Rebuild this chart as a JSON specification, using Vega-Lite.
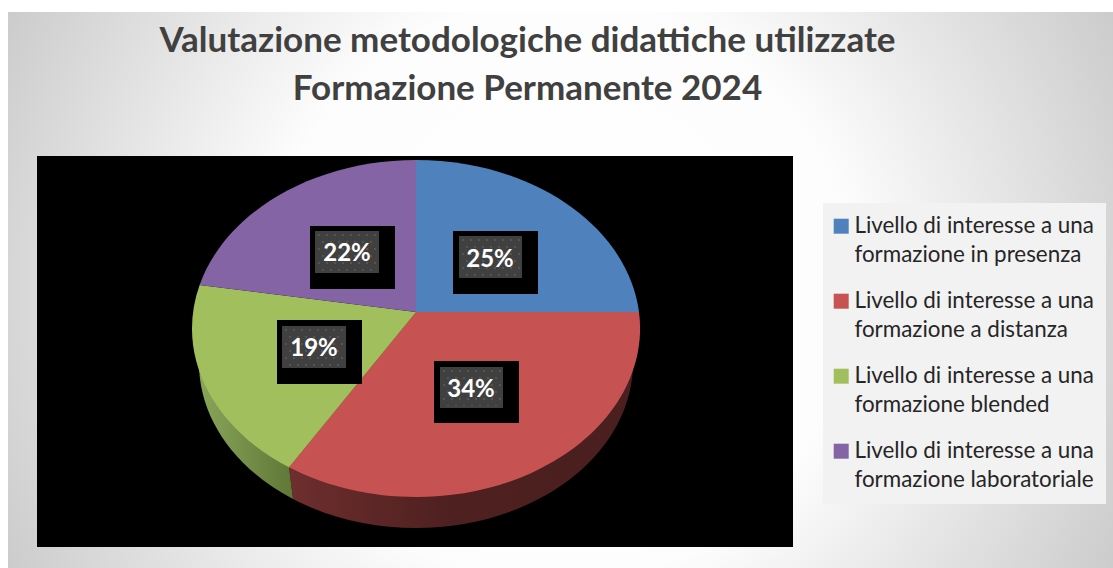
{
"$schema":"https://vega.github.io/schema/vega-lite/v6.json",
"width":1105,"height":556,"autosize":{"type":"none"},
"padding":{"left":8,"top":12,"right":0,"bottom":0},
"background":"#ffffff",
"view":{"stroke":null,"fill":{"gradient":"radial","x1":0.5,"y1":0.5,"r1":0,"x2":0.5,"y2":0.5,"r2":0.66,"stops":[{"offset":0,"color":"#ffffff"},{"offset":0.4,"color":"#fdfdfd"},{"offset":1,"color":"#bbbbbb"}]}},
"config":{"font":"Lato"},
"resolve":{"scale":{"shape":"independent"}},
"title":{"text":["Valutazione metodologiche didattiche utilizzate","Formazione Permanente 2024"],"font":"Lato","fontSize":35,"fontWeight":"bold","color":"#404040","lineHeight":48,"anchor":"middle","frame":"group","dx":-33,"dy":99},
"data":{"values":[
{"category":"Livello di interesse a una formazione in presenza","value":0.25},
{"category":"Livello di interesse a una formazione a distanza","value":0.34},
{"category":"Livello di interesse a una formazione blended","value":0.19},
{"category":"Livello di interesse a una formazione laboratoriale","value":0.22}
]},
"layer":[
{"mark":{"type":"rect","color":"#000000"},
 "transform":[{"filter":"datum.value==0.25"}],
 "encoding":{
 "x":{"datum":29,"type":"quantitative","scale":{"domain":[0,1105],"nice":false,"zero":false},"axis":null},
 "x2":{"datum":785},
 "y":{"datum":144,"type":"quantitative","scale":{"domain":[0,556],"reverse":true,"nice":false,"zero":false},"axis":null},
 "y2":{"datum":535}}},
{"mark":{"type":"point","filled":true,"opacity":1,"strokeWidth":0,"size":4,"shape":"M224,16.5L217,51A217,165 0 0 1 -123,187L-127,155.3L0,0Z","fill":{"gradient":"linear","x1":0,"y1":0,"x2":1,"y2":0,"stops":[{"offset":0,"color":"#6e2e2e"},{"offset":0.45,"color":"#4f2020"},{"offset":1,"color":"#4a1f1f"}]}},
 "transform":[{"filter":"datum.value==0.34"}],
 "encoding":{"x":{"datum":408,"type":"quantitative"},"y":{"datum":300,"type":"quantitative"}}},
{"mark":{"type":"point","filled":true,"opacity":1,"strokeWidth":0,"size":4,"shape":"M-127,155.3L-123,187A217,165 0 0 1 -217,51L-224,16.5L0,0Z","fill":{"gradient":"linear","x1":0,"y1":0,"x2":1,"y2":0,"stops":[{"offset":0,"color":"#8ca95c"},{"offset":0.47,"color":"#5e7536"},{"offset":1,"color":"#5e7536"}]}},
 "transform":[{"filter":"datum.value==0.19"}],
 "encoding":{"x":{"datum":408,"type":"quantitative"},"y":{"datum":300,"type":"quantitative"}}},
{"mark":{"type":"point","filled":true,"opacity":1,"strokeWidth":0,"size":4},
 "encoding":{"x":{"datum":408,"type":"quantitative"},"y":{"datum":300,"type":"quantitative"},
 "color":{"field":"category","type":"nominal","sort":null,
  "scale":{"domain":["Livello di interesse a una formazione in presenza","Livello di interesse a una formazione a distanza","Livello di interesse a una formazione blended","Livello di interesse a una formazione laboratoriale"],"range":["#4f81bd","#c65351","#a2bf5d","#8464a5"]},
  "legend":{"title":null,"orient":"none","legendX":815,"legendY":191,"fillColor":"#f2f2f2","padding":12,"symbolType":"square","symbolSize":225,"symbolStrokeWidth":0,"symbolOpacity":1,"symbolOffset":-5,"labelFont":"Lato","labelFontSize":22.4,"labelColor":"#262626","labelLimit":300,"labelOffset":2,"rowPadding":23,
   "labelExpr":"[slice(datum.label,0,26),slice(datum.label,27)]",
   "encoding":{"labels":{"lineHeight":{"value":29}}}}},
 "shape":{"field":"category","type":"nominal","sort":null,"legend":null,
  "scale":{"domain":["Livello di interesse a una formazione in presenza","Livello di interesse a una formazione a distanza","Livello di interesse a una formazione blended","Livello di interesse a una formazione laboratoriale"],
  "range":["M0,0L0,-152A224,168.5 0 0 1 223,0Z","M0,0L223,0A224,168.5 0 0 1 -127,155.3Z","M0,0L-127,155.3A224,168.5 0 0 1 -216.4,-27Z","M0,0L-216.4,-27A224,168.5 0 0 1 0,-152Z"]}}}},
{"mark":{"type":"point","filled":true,"opacity":1,"strokeWidth":0,"size":4,"color":"#000000"},
 "encoding":{"x":{"datum":408,"type":"quantitative"},"y":{"datum":300,"type":"quantitative"},
 "shape":{"field":"value","type":"nominal","legend":null,"scale":{"domain":[0.25,0.34,0.19,0.22],
  "range":["M37,-81H122V-18H37Z","M18,49H103V111H18Z","M-139,8H-54V72H-139Z","M-106,-86H-21V-23H-106Z"]}}}},
{"mark":{"type":"point","filled":true,"opacity":1,"strokeWidth":0,"size":4,"color":"#404040"},
 "encoding":{"x":{"datum":408,"type":"quantitative"},"y":{"datum":300,"type":"quantitative"},
 "shape":{"field":"value","type":"nominal","legend":null,"scale":{"domain":[0.25,0.34,0.19,0.22],
  "range":["M43,-76H106V-34H43Z","M24,55H87V96H24Z","M-134,14H-70V56H-134Z","M-101,-81H-37V-39H-101Z"]}}}},
{"mark":{"type":"point","filled":true,"opacity":1,"strokeWidth":0,"size":4,"color":"#545454"},
 "encoding":{"x":{"datum":408,"type":"quantitative"},"y":{"datum":300,"type":"quantitative"},
 "shape":{"field":"value","type":"nominal","legend":null,"scale":{"domain":[0.25,0.34,0.19,0.22],
  "range":[
  "M46,-73h2v2h-2zM54,-73h2v2h-2zM62,-73h2v2h-2zM70,-73h2v2h-2zM78,-73h2v2h-2zM86,-73h2v2h-2zM94,-73h2v2h-2zM102,-73h2v2h-2zM50,-66h2v2h-2zM58,-66h2v2h-2zM66,-66h2v2h-2zM74,-66h2v2h-2zM82,-66h2v2h-2zM90,-66h2v2h-2zM98,-66h2v2h-2zM46,-59h2v2h-2zM54,-59h2v2h-2zM62,-59h2v2h-2zM70,-59h2v2h-2zM78,-59h2v2h-2zM86,-59h2v2h-2zM94,-59h2v2h-2zM102,-59h2v2h-2zM50,-52h2v2h-2zM58,-52h2v2h-2zM66,-52h2v2h-2zM74,-52h2v2h-2zM82,-52h2v2h-2zM90,-52h2v2h-2zM98,-52h2v2h-2zM46,-45h2v2h-2zM54,-45h2v2h-2zM62,-45h2v2h-2zM70,-45h2v2h-2zM78,-45h2v2h-2zM86,-45h2v2h-2zM94,-45h2v2h-2zM102,-45h2v2h-2zM50,-38h2v2h-2zM58,-38h2v2h-2zM66,-38h2v2h-2zM74,-38h2v2h-2zM82,-38h2v2h-2zM90,-38h2v2h-2zM98,-38h2v2h-2z",
  "M27,58h2v2h-2zM35,58h2v2h-2zM43,58h2v2h-2zM51,58h2v2h-2zM59,58h2v2h-2zM67,58h2v2h-2zM75,58h2v2h-2zM83,58h2v2h-2zM31,65h2v2h-2zM39,65h2v2h-2zM47,65h2v2h-2zM55,65h2v2h-2zM63,65h2v2h-2zM71,65h2v2h-2zM79,65h2v2h-2zM27,72h2v2h-2zM35,72h2v2h-2zM43,72h2v2h-2zM51,72h2v2h-2zM59,72h2v2h-2zM67,72h2v2h-2zM75,72h2v2h-2zM83,72h2v2h-2zM31,79h2v2h-2zM39,79h2v2h-2zM47,79h2v2h-2zM55,79h2v2h-2zM63,79h2v2h-2zM71,79h2v2h-2zM79,79h2v2h-2zM27,86h2v2h-2zM35,86h2v2h-2zM43,86h2v2h-2zM51,86h2v2h-2zM59,86h2v2h-2zM67,86h2v2h-2zM75,86h2v2h-2zM83,86h2v2h-2zM31,93h2v1h-2zM39,93h2v1h-2zM47,93h2v1h-2zM55,93h2v1h-2zM63,93h2v1h-2zM71,93h2v1h-2zM79,93h2v1h-2z",
  "M-131,17h2v2h-2zM-123,17h2v2h-2zM-115,17h2v2h-2zM-107,17h2v2h-2zM-99,17h2v2h-2zM-91,17h2v2h-2zM-83,17h2v2h-2zM-75,17h2v2h-2zM-127,24h2v2h-2zM-119,24h2v2h-2zM-111,24h2v2h-2zM-103,24h2v2h-2zM-95,24h2v2h-2zM-87,24h2v2h-2zM-79,24h2v2h-2zM-131,31h2v2h-2zM-123,31h2v2h-2zM-115,31h2v2h-2zM-107,31h2v2h-2zM-99,31h2v2h-2zM-91,31h2v2h-2zM-83,31h2v2h-2zM-75,31h2v2h-2zM-127,38h2v2h-2zM-119,38h2v2h-2zM-111,38h2v2h-2zM-103,38h2v2h-2zM-95,38h2v2h-2zM-87,38h2v2h-2zM-79,38h2v2h-2zM-131,45h2v2h-2zM-123,45h2v2h-2zM-115,45h2v2h-2zM-107,45h2v2h-2zM-99,45h2v2h-2zM-91,45h2v2h-2zM-83,45h2v2h-2zM-75,45h2v2h-2zM-127,52h2v2h-2zM-119,52h2v2h-2zM-111,52h2v2h-2zM-103,52h2v2h-2zM-95,52h2v2h-2zM-87,52h2v2h-2zM-79,52h2v2h-2z",
  "M-98,-78h2v2h-2zM-90,-78h2v2h-2zM-82,-78h2v2h-2zM-74,-78h2v2h-2zM-66,-78h2v2h-2zM-58,-78h2v2h-2zM-50,-78h2v2h-2zM-42,-78h2v2h-2zM-94,-71h2v2h-2zM-86,-71h2v2h-2zM-78,-71h2v2h-2zM-70,-71h2v2h-2zM-62,-71h2v2h-2zM-54,-71h2v2h-2zM-46,-71h2v2h-2zM-98,-64h2v2h-2zM-90,-64h2v2h-2zM-82,-64h2v2h-2zM-74,-64h2v2h-2zM-66,-64h2v2h-2zM-58,-64h2v2h-2zM-50,-64h2v2h-2zM-42,-64h2v2h-2zM-94,-57h2v2h-2zM-86,-57h2v2h-2zM-78,-57h2v2h-2zM-70,-57h2v2h-2zM-62,-57h2v2h-2zM-54,-57h2v2h-2zM-46,-57h2v2h-2zM-98,-50h2v2h-2zM-90,-50h2v2h-2zM-82,-50h2v2h-2zM-74,-50h2v2h-2zM-66,-50h2v2h-2zM-58,-50h2v2h-2zM-50,-50h2v2h-2zM-42,-50h2v2h-2zM-94,-43h2v2h-2zM-86,-43h2v2h-2zM-78,-43h2v2h-2zM-70,-43h2v2h-2zM-62,-43h2v2h-2zM-54,-43h2v2h-2zM-46,-43h2v2h-2z"
  ]}}}},
{"mark":{"type":"text","font":"Lato","fontWeight":"bold","fontSize":24,"color":"#ffffff"},"transform":[{"filter":"datum.value==0.25"}],
 "encoding":{"x":{"datum":482,"type":"quantitative"},"y":{"datum":248,"type":"quantitative"},"text":{"field":"value","type":"quantitative","format":".0%"}}},
{"mark":{"type":"text","font":"Lato","fontWeight":"bold","fontSize":24,"color":"#ffffff"},"transform":[{"filter":"datum.value==0.34"}],
 "encoding":{"x":{"datum":463,"type":"quantitative"},"y":{"datum":378,"type":"quantitative"},"text":{"field":"value","type":"quantitative","format":".0%"}}},
{"mark":{"type":"text","font":"Lato","fontWeight":"bold","fontSize":24,"color":"#ffffff"},"transform":[{"filter":"datum.value==0.19"}],
 "encoding":{"x":{"datum":306,"type":"quantitative"},"y":{"datum":337,"type":"quantitative"},"text":{"field":"value","type":"quantitative","format":".0%"}}},
{"mark":{"type":"text","font":"Lato","fontWeight":"bold","fontSize":24,"color":"#ffffff"},"transform":[{"filter":"datum.value==0.22"}],
 "encoding":{"x":{"datum":339,"type":"quantitative"},"y":{"datum":242,"type":"quantitative"},"text":{"field":"value","type":"quantitative","format":".0%"}}}
]}
